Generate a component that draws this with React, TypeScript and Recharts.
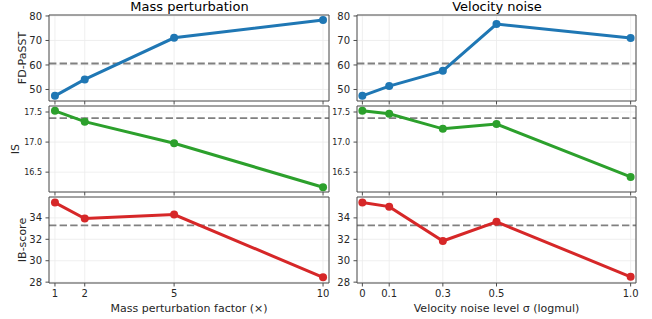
import React from "react";
import { CartesianGrid, Label, Line, LineChart, ReferenceLine, XAxis, YAxis } from "recharts";

const massFactors = [1, 2, 5, 10];
const massTickLabels = ["1", "2", "5", "10"];
const massFd = [47.4, 54.1, 71.1, 78.4];
const massIs = [17.52, 17.34, 16.98, 16.25];
const massIb = [35.43, 33.94, 34.31, 28.45];

const velLevels = [0, 0.1, 0.3, 0.5, 1.0];
const velTickLabels = ["0", "0.1", "0.3", "0.5", "1.0"];
const velFd = [47.4, 51.4, 57.6, 76.7, 71.0];
const velIs = [17.52, 17.47, 17.22, 17.3, 16.42];
const velIb = [35.43, 35.05, 31.84, 33.63, 28.5];

const metricNames = ["FD-PaSST", "IS", "IB-score"];
const baselines = [60.6, 17.4, 33.3];
const fdTicks = [50, 60, 70, 80];
const isTicks = [16.5, 17.0, 17.5];
const ibTicks = [28, 30, 32, 34];

const FONT = "DejaVu Sans, sans-serif";
const INK = "#262626";
const SPINE = "#4d4d4d";
const GRID = "#ebebeb";

type PanelProps = {
  xs: number[];
  ys: number[];
  xDomain: [number, number];
  xTicks: number[];
  xTickLabels: string[];
  yDomain: [number, number];
  yTicks: number[];
  yFmt: (v: number) => string;
  yFont: number;
  refY: number;
  color: string;
  left: number;
  top: number;
  plotWidth: number;
  height: number;
  marginTop: number;
  xHeight: number;
  bottom?: boolean;
  xLabel?: string;
};

function Panel(p: PanelProps) {
  const data = p.xs.map((x, i) => ({ x, y: p.ys[i] }));
  const xFmt = (v: number) => {
    if (!p.bottom) return "";
    const i = p.xTicks.indexOf(v);
    return i >= 0 ? p.xTickLabels[i] : String(v);
  };
  // plot area: 49px y axis on the left, 1px right spine axis, 12px spare margin on the right
  const width = 49 + p.plotWidth + 1 + 12;
  return (
    <div style={{ position: "absolute", left: p.left, top: p.top }}>
      <LineChart width={width} height={p.height} data={data} margin={{ top: p.marginTop - 1, right: 12, bottom: 0, left: 0 }}>
        <CartesianGrid stroke={GRID} strokeWidth={0.8} />
        <XAxis
          dataKey="x"
          type="number"
          domain={p.xDomain}
          ticks={p.xTicks}
          height={p.xHeight}
          tickFormatter={xFmt}
          tickSize={3.5}
          tickMargin={3.5}
          tick={{ fill: INK, fontSize: 10, fontFamily: FONT }}
          axisLine={{ stroke: SPINE }}
          tickLine={{ stroke: SPINE }}
          interval={0}
          allowDataOverflow
        >
          {p.bottom && p.xLabel ? (
            <Label value={p.xLabel} position="insideBottom" offset={7} style={{ fill: INK, fontSize: 11, fontFamily: FONT }} />
          ) : null}
        </XAxis>
        <XAxis xAxisId="top" orientation="top" type="number" domain={p.xDomain} height={1} ticks={[]} tickLine={false} tickFormatter={() => ""} axisLine={{ stroke: SPINE }} />
        <YAxis
          type="number"
          domain={p.yDomain}
          ticks={p.yTicks}
          width={49}
          tickFormatter={p.yFmt}
          tickSize={3.5}
          tickMargin={3.5}
          tick={{ fill: INK, fontSize: p.yFont, fontFamily: FONT }}
          axisLine={{ stroke: SPINE }}
          tickLine={{ stroke: SPINE }}
          interval={0}
          allowDataOverflow
        />
        <YAxis yAxisId="right" orientation="right" type="number" domain={p.yDomain} width={1} ticks={[]} tickLine={false} tickFormatter={() => ""} axisLine={{ stroke: SPINE }} />
        <ReferenceLine y={p.refY} stroke="#808080" strokeWidth={1.8} strokeDasharray="7.4 3.2" />
        <Line
          dataKey="y"
          stroke={p.color}
          strokeWidth={3}
          dot={{ r: 4, fill: p.color, stroke: p.color, strokeWidth: 0 }}
          activeDot={false}
          isAnimationActive={false}
        />
      </LineChart>
    </div>
  );
}

export default function App() {
  const colors = ["#1f77b4", "#2ca02c", "#d62728"];
  const yDomains: [number, number][] = [
    [45.3, 80.4],
    [16.17, 17.6],
    [27.92, 35.95],
  ];
  const yTicksAll = [fdTicks, isTicks, ibTicks];
  const yFmts = [(v: number) => String(v), (v: number) => v.toFixed(1), (v: number) => String(v)];
  const yFonts = [10, 8, 10];
  const massSeries = [massFd, massIs, massIb];
  const velSeries = [velFd, velIs, velIb];
  const rows = [
    { top: 0, height: 110, marginTop: 15, xHeight: 9 },
    { top: 101, height: 100, marginTop: 5, xHeight: 9 },
    { top: 192, height: 127, marginTop: 5, xHeight: 36 },
  ];
  const yLabelX = [22, 15, 22];
  const yLabelY = [58, 149, 240];

  return (
    <div style={{ position: "absolute", left: 0, top: 0, width: 652, height: 319, background: "#fff", fontFamily: FONT, overflow: "hidden" }}>
      {rows.map((r, i) => (
        <React.Fragment key={i}>
          <Panel
            xs={massFactors}
            ys={massSeries[i]}
            xDomain={[0.8, 10.2]}
            xTicks={massFactors}
            xTickLabels={massTickLabels}
            yDomain={yDomains[i]}
            yTicks={yTicksAll[i]}
            yFmt={yFmts[i]}
            yFont={yFonts[i]}
            refY={baselines[i]}
            color={colors[i]}
            left={0}
            top={r.top}
            plotWidth={280}
            height={r.height}
            marginTop={r.marginTop}
            xHeight={r.xHeight}
            bottom={i === 2}
            xLabel="Mass perturbation factor (×)"
          />
          <Panel
            xs={velLevels}
            ys={velSeries[i]}
            xDomain={[-0.02, 1.02]}
            xTicks={velLevels}
            xTickLabels={velTickLabels}
            yDomain={yDomains[i]}
            yTicks={yTicksAll[i]}
            yFmt={yFmts[i]}
            yFont={yFonts[i]}
            refY={baselines[i]}
            color={colors[i]}
            left={308}
            top={r.top}
            plotWidth={279}
            height={r.height}
            marginTop={r.marginTop}
            xHeight={r.xHeight}
            bottom={i === 2}
            xLabel="Velocity noise level σ (logmul)"
          />
        </React.Fragment>
      ))}
      <svg width={652} height={319} style={{ position: "absolute", left: 0, top: 0, pointerEvents: "none" }}>
        <text x={189.5} y={10.5} textAnchor="middle" fontSize={13} fill="#000" fontFamily={FONT}>
          Mass perturbation
        </text>
        <text x={497} y={10.5} textAnchor="middle" fontSize={13} fill="#000" fontFamily={FONT}>
          Velocity noise
        </text>
        {metricNames.map((name, i) => (
          <text
            key={name}
            x={yLabelX[i]}
            y={yLabelY[i]}
            transform={`rotate(-90, ${yLabelX[i]}, ${yLabelY[i]})`}
            textAnchor="middle"
            dominantBaseline="central"
            fontSize={11}
            fill={INK}
            fontFamily={FONT}
          >
            {name}
          </text>
        ))}
      </svg>
    </div>
  );
}
